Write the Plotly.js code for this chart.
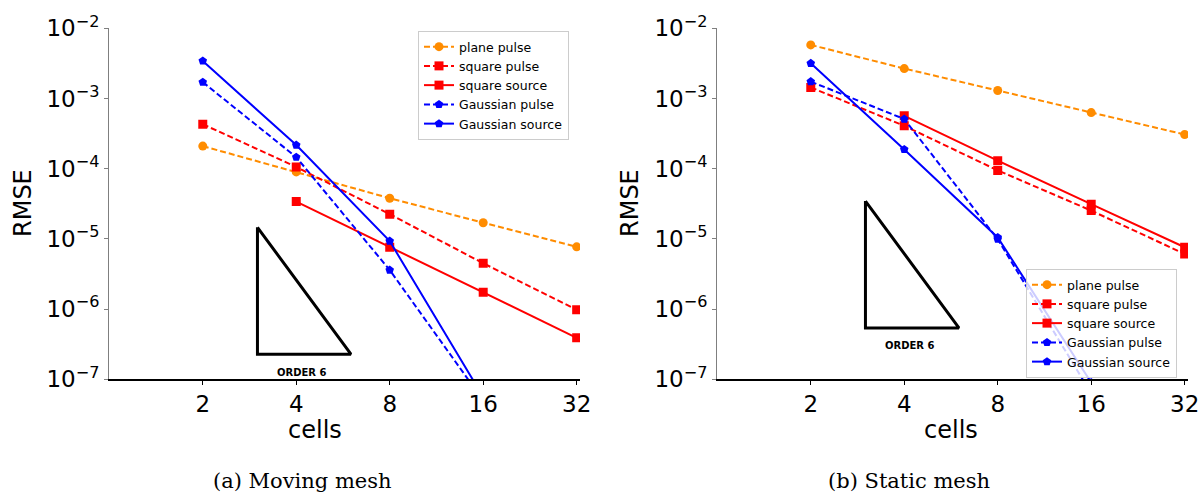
<!DOCTYPE html>
<html>
<head>
<meta charset="utf-8">
<script src="https://cdn.plot.ly/plotly-3.0.1.min.js"></script>
<style>html,body{margin:0;padding:0;background:#fff;}#chart{width:1200px;height:494px;}</style>
</head>
<body>
<div id="chart"></div>
<script>
// ---- data ----
const cells = [2, 4, 8, 16, 32];
const xTickLabels = ['2', '4', '8', '16', '32'];
const yTickVals = [1e-7, 1e-6, 1e-5, 1e-4, 1e-3, 1e-2];
const yTickLabels = ['10<sup>−7</sup>', '10<sup>−6</sup>', '10<sup>−5</sup>', '10<sup>−4</sup>', '10<sup>−3</sup>', '10<sup>−2</sup>'];
const seriesNames = ['plane pulse', 'square pulse', 'square source', 'Gaussian pulse', 'Gaussian source'];

// (a) Moving mesh
const movPlanePulse   = [2.1e-4, 9.0e-5, 3.8e-5, 1.7e-5, 7.7e-6];
const movSquarePulse  = [4.3e-4, 1.06e-4, 2.25e-5, 4.5e-6, 9.8e-7];
const movSquareSource = [null, 3.4e-5, 7.6e-6, 1.74e-6, 3.9e-7];
const movGaussPulse   = [1.71e-3, 1.46e-4, 3.6e-6, 5.0e-8, null];
const movGaussSource  = [3.43e-3, 2.17e-4, 9.3e-6, 5.6e-8, null];

// (b) Static mesh
const staPlanePulse   = [5.8e-3, 2.67e-3, 1.30e-3, 6.3e-4, 3.07e-4];
const staSquarePulse  = [1.44e-3, 4.08e-4, 9.46e-5, 2.53e-5, 6.1e-6];
const staSquareSource = [null, 5.66e-4, 1.30e-4, 3.12e-5, 7.6e-6];
const staGaussPulse   = [1.74e-3, 5.1e-4, 9.9e-6, 6.3e-8, null];
const staGaussSource  = [3.17e-3, 1.88e-4, 1.05e-5, 9.0e-8, null];

// order-6 slope triangles: x (cells), y (RMSE)
const movTriX = [3, 3, 6, 3];
const movTriY = [1.46e-5, 2.28e-7, 2.28e-7, 1.46e-5];
const staTriX = [3, 3, 6, 3];
const staTriY = [3.46e-5, 5.4e-7, 5.4e-7, 3.46e-5];
const triLabel = 'ORDER 6';
const movTriLabelPos = [4.17, 1.24e-7];
const staTriLabelPos = [4.17, 3.08e-7];

const captions = ['(a) Moving mesh', '(b) Static mesh'];

// ---- styles ----
const styles = [
  {color: '#ff8c00', dash: '6px,3px', symbol: 'circle', size: 9},
  {color: '#ff0000', dash: '6px,3px', symbol: 'square', size: 9},
  {color: '#ff0000', dash: 'solid', symbol: 'square', size: 9},
  {color: '#0000ff', dash: '6px,3px', symbol: 'pentagon', size: 9},
  {color: '#0000ff', dash: 'solid', symbol: 'pentagon', size: 9}
];

function mk(vals, i, xa, ya, leg) {
  const s = styles[i];
  return {
    x: cells, y: vals, name: seriesNames[i], type: 'scatter', mode: 'lines+markers',
    xaxis: xa, yaxis: ya, legend: leg,
    line: {color: s.color, width: 2, dash: s.dash},
    marker: {color: s.color, symbol: s.symbol, size: s.size, line: {width: 0}},
    hoverinfo: 'x+y'
  };
}

const traces = [
  {x: movTriX, y: movTriY, type: 'scatter', mode: 'lines', xaxis: 'x', yaxis: 'y', showlegend: false,
   line: {color: '#000', width: 3}, hoverinfo: 'skip'},
  {x: staTriX, y: staTriY, type: 'scatter', mode: 'lines', xaxis: 'x2', yaxis: 'y2', showlegend: false,
   line: {color: '#000', width: 3}, hoverinfo: 'skip'}
];
[movPlanePulse, movSquarePulse, movSquareSource, movGaussPulse, movGaussSource]
  .forEach((v, i) => traces.push(mk(v, i, 'x', 'y', 'legend')));
[staPlanePulse, staSquarePulse, staSquareSource, staGaussPulse, staGaussSource]
  .forEach((v, i) => traces.push(mk(v, i, 'x2', 'y2', 'legend2')));

const W = 1200, H = 494;
const tickFont = {family: 'DejaVu Sans', size: 23, color: '#000'};
const xr = [0, Math.log10(32.8)];
function xaxis(dom, anchor) {
  return {
    type: 'log', domain: dom, anchor: anchor, range: xr,
    tickvals: cells, ticktext: xTickLabels, tickfont: tickFont,
    showline: true, linecolor: '#000', linewidth: 1.3, mirror: false,
    ticks: 'outside', ticklen: 4, tickcolor: '#000', tickwidth: 1,
    showgrid: false, zeroline: false, automargin: false, fixedrange: true
  };
}
function yaxis(anchor) {
  return {
    type: 'log', domain: [1 - 379.3 / H, 1 - 28.3 / H], anchor: anchor, range: [-7, -2],
    tickvals: yTickVals, ticktext: yTickLabels, tickfont: tickFont,
    showline: true, linecolor: '#7f7f7f', linewidth: 1.3, mirror: false,
    ticks: 'outside', ticklen: 4, tickcolor: '#7f7f7f', tickwidth: 1,
    showgrid: false, zeroline: false, automargin: false, fixedrange: true
  };
}

const labelFont = {family: 'DejaVu Sans', size: 24, color: '#000'};
const capFont = {family: 'DejaVu Serif', size: 21, color: '#000'};
const legFont = {family: 'DejaVu Sans', size: 12.5, color: '#000'};

const annotations = [
  {xref: 'paper', yref: 'paper', x: 23 / W, y: 1 - 203 / H, text: 'RMSE', textangle: -90, showarrow: false, font: labelFont, xanchor: 'center', yanchor: 'middle'},
  {xref: 'paper', yref: 'paper', x: 630 / W, y: 1 - 203 / H, text: 'RMSE', textangle: -90, showarrow: false, font: labelFont, xanchor: 'center', yanchor: 'middle'},
  {xref: 'paper', yref: 'paper', x: 315 / W, y: 1 - 430 / H, text: 'cells', showarrow: false, font: labelFont, xanchor: 'center', yanchor: 'middle'},
  {xref: 'paper', yref: 'paper', x: 951 / W, y: 1 - 430 / H, text: 'cells', showarrow: false, font: labelFont, xanchor: 'center', yanchor: 'middle'},
  {xref: 'paper', yref: 'paper', x: 302 / W, y: 1 - 481 / H, text: captions[0], showarrow: false, font: capFont, xanchor: 'center', yanchor: 'middle'},
  {xref: 'paper', yref: 'paper', x: 909 / W, y: 1 - 481 / H, text: captions[1], showarrow: false, font: capFont, xanchor: 'center', yanchor: 'middle'},
  {xref: 'x', yref: 'y', x: Math.log10(movTriLabelPos[0]), y: Math.log10(movTriLabelPos[1]), text: '<b>' + triLabel + '</b>', showarrow: false,
   font: {family: 'DejaVu Sans', size: 10, color: '#000'}, xanchor: 'center', yanchor: 'middle'},
  {xref: 'x2', yref: 'y2', x: Math.log10(staTriLabelPos[0]), y: Math.log10(staTriLabelPos[1]), text: '<b>' + triLabel + '</b>', showarrow: false,
   font: {family: 'DejaVu Sans', size: 10, color: '#000'}, xanchor: 'center', yanchor: 'middle'}
];

const legendBase = {
  bgcolor: 'rgba(255,255,255,0.8)', bordercolor: '#cccccc', borderwidth: 1,
  font: legFont, xanchor: 'left', yanchor: 'top', xref: 'paper', yref: 'paper',
  itemwidth: 30, tracegroupgap: 0
};

const layout = {
  width: W, height: H,
  margin: {l: 0, r: 0, t: 0, b: 0},
  paper_bgcolor: '#fff', plot_bgcolor: 'rgba(0,0,0,0)',
  font: {family: 'DejaVu Sans', color: '#000'},
  xaxis: xaxis([109.3 / W, 580 / W], 'y'),
  yaxis: yaxis('x'),
  xaxis2: xaxis([717.3 / W, 1188 / W], 'y2'),
  yaxis2: yaxis('x2'),
  legend: Object.assign({}, legendBase, {x: 418 / W, y: 1 - 31 / H}),
  legend2: Object.assign({}, legendBase, {x: 1026 / W, y: 1 - 269 / H}),
  annotations: annotations,
  showlegend: true
};

Plotly.newPlot('chart', traces, layout, {displayModeBar: false, staticPlot: true});
</script>
</body>
</html>
